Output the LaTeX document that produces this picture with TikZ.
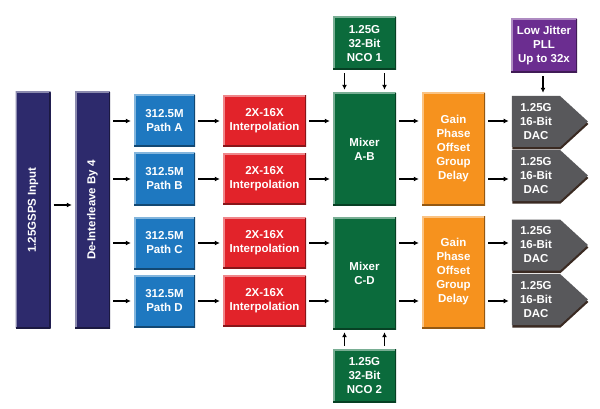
\documentclass[tikz,border=0pt]{standalone}
\usepackage{fontspec}
\setmainfont{Liberation Sans}
\usepackage{tikz}
\usetikzlibrary{arrows.meta,shapes.symbols,shadows}

\definecolor{navy}{HTML}{2D2A6C}
\definecolor{pathblue}{HTML}{1E78C0}
\definecolor{interpred}{HTML}{E2232A}
\definecolor{mixgreen}{HTML}{0B6B3C}
\definecolor{gainorange}{HTML}{F6921E}
\definecolor{dacgray}{HTML}{58585B}
\definecolor{dacshade}{HTML}{3A2A22}
\definecolor{pllpurple}{HTML}{6B2D90}

\tikzset{
	blk/.style={fill=#1, text=white, align=center, inner sep=0pt,
		font=\bfseries\fontsize{11.5}{14}\selectfont,
		path picture={
			\draw[line width=3pt,#1!55!white] (path picture bounding box.south west)
				-- (path picture bounding box.north west) -- (path picture bounding box.north east);
			\draw[line width=3pt,#1!60!black] (path picture bounding box.north east)
				-- (path picture bounding box.south east) -- (path picture bounding box.south west);
		}},
	bar/.style={blk=navy, minimum width=236pt, minimum height=35pt, rotate=90},
	pathbox/.style={blk=pathblue, minimum width=61pt, minimum height=52pt},
	interbox/.style={blk=interpred, minimum width=83pt, minimum height=51pt},
	greenbox/.style={blk=mixgreen, minimum width=63pt, minimum height=#1},
	gainbox/.style={blk=gainorange, minimum width=63pt, minimum height=112pt},
	dacbox/.style={shape=signal, signal to=east, signal from=nowhere, signal pointer angle=85,
		fill=dacgray, text=white, align=center, inner sep=0pt,
		minimum width=76pt, minimum height=51pt,
		font=\bfseries\fontsize{11.5}{14}\selectfont,
		general shadow={fill=dacshade, shadow yshift=-2.5pt, shadow xshift=0.5pt}},
}

\begin{document}
\begin{tikzpicture}[x=1pt,y=-1pt, >={Latex[length=5pt,width=5pt]},
	every edge/.style={draw, line width=1.3pt, shorten <=3pt, shorten >=3pt}]

	\useasboundingbox (0,0) rectangle (600,409);
	\fill[white] (0,0) rectangle (600,409);

	\node (input) at (33,210) [bar] {1.25GSPS Input};
	\node (deint) at (92.5,210) [bar] {De-Interleave By 4};

	\node (pA) at (164.5,121) [pathbox] {312.5M\\Path A};
	\node (pB) at (164.5,179) [pathbox] {312.5M\\Path B};
	\node (pC) at (164.5,243) [pathbox] {312.5M\\Path C};
	\node (pD) at (164.5,301) [pathbox] {312.5M\\Path D};

	\node (iA) at (264.5,121) [interbox] {2X-16X\\Interpolation};
	\node (iB) at (264.5,179) [interbox] {2X-16X\\Interpolation};
	\node (iC) at (264.5,243) [interbox] {2X-16X\\Interpolation};
	\node (iD) at (264.5,301) [interbox] {2X-16X\\Interpolation};

	\node (nco1) at (364.5,43.5) [greenbox=53pt] {1.25G\\32-Bit\\NCO 1};
	\node (mAB) at (364.5,149) [greenbox=112pt] {Mixer\\A-B};
	\node (mCD) at (364.5,273) [greenbox=112pt] {Mixer\\C-D};
	\node (nco2) at (364.5,375.5) [greenbox=53pt] {1.25G\\32-Bit\\NCO 2};

	\node (gAB) at (453.5,149) [gainbox] {Gain\\Phase\\Offset\\Group\\Delay};
	\node (gCD) at (453.5,272) [gainbox] {Gain\\Phase\\Offset\\Group\\Delay};

	\node (pll) at (544,46) [blk=pllpurple, minimum width=66pt, minimum height=54pt] {Low Jitter\\PLL\\Up to 32x};

	\node (dA) at (536,121.5) [dacbox] {1.25G\\16-Bit\\DAC};
	\node (dB) at (536,175.5) [dacbox] {1.25G\\16-Bit\\DAC};
	\node (dC) at (536,245) [dacbox] {1.25G\\16-Bit\\DAC};
	\node (dD) at (536,299.5) [dacbox] {1.25G\\16-Bit\\DAC};

	\draw (input.south |- 0,205) edge[->] (deint.north |- 0,205)
	(deint.south |- pA) edge[->] (pA)
	(deint.south |- pB) edge[->] (pB)
	(deint.south |- pC) edge[->] (pC)
	(deint.south |- pD) edge[->] (pD)
	(pA) edge[->] (iA)
	(pB) edge[->] (iB)
	(pC) edge[->] (iC)
	(pD) edge[->] (iD)
	(iA) edge[->] (mAB.west |- iA)
	(iB) edge[->] (mAB.west |- iB)
	(iC) edge[->] (mCD.west |- iC)
	(iD) edge[->] (mCD.west |- iD)
	([xshift=-20pt]nco1.south) edge[->] ([xshift=-20pt]mAB.north)
	([xshift=20pt]nco1.south) edge[->] ([xshift=20pt]mAB.north)
	([xshift=-20pt]nco2.north) edge[->] ([xshift=-20pt]mCD.south)
	([xshift=20pt]nco2.north) edge[->] ([xshift=20pt]mCD.south)
	(mAB.east |- iA) edge[->] (gAB.west |- iA)
	(mAB.east |- iB) edge[->] (gAB.west |- iB)
	(mCD.east |- iC) edge[->] (gCD.west |- iC)
	(mCD.east |- iD) edge[->] (gCD.west |- iD)
	(gAB.east |- iA) edge[->] (dA.west |- iA)
	(gAB.east |- iB) edge[->] (dB.west |- iB)
	(gCD.east |- iC) edge[->] (dC.west |- iC)
	(gCD.east |- iD) edge[->] (dD.west |- iD)
	(pll.south -| 543,0) edge[->] (dA.north -| 543,0);

\end{tikzpicture}
\end{document}
